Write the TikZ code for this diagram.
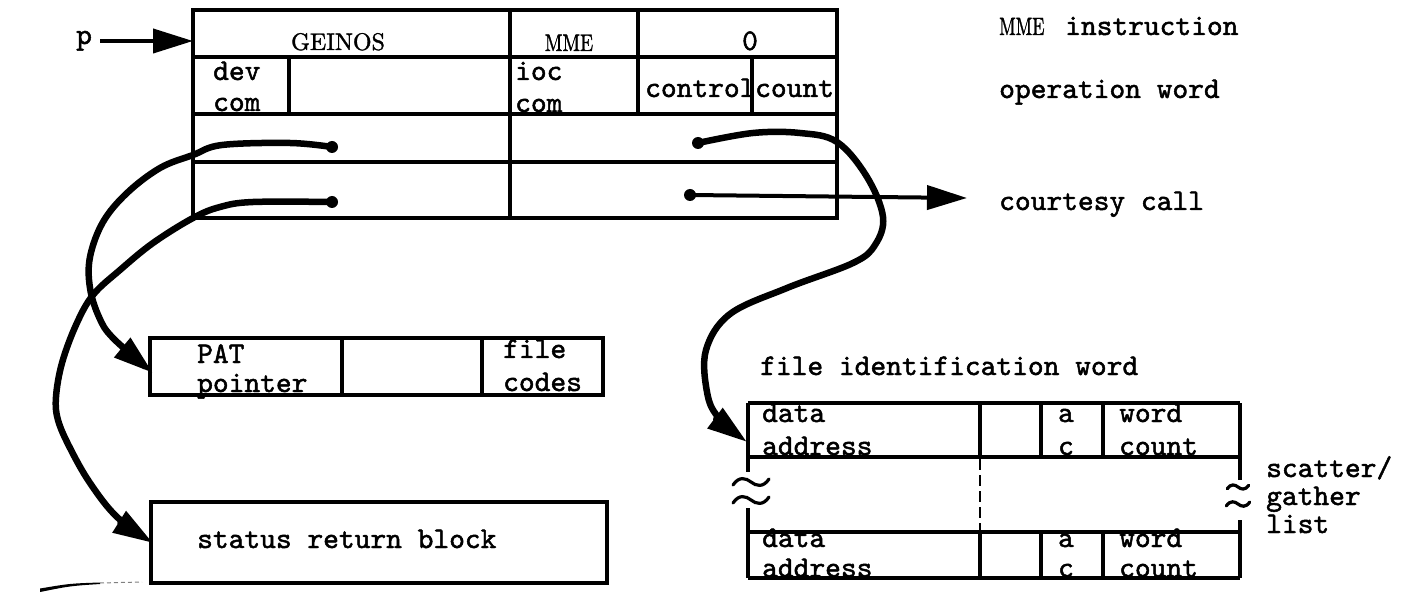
\documentclass[tikz,border=0pt]{standalone}
\usepackage{fontspec}
\newfontfamily\twfont{lmmono10-regular.otf}[FakeBold=1.6]
\newfontfamily\twrm{lmroman10-regular.otf}[FakeBold=1.4]
\usetikzlibrary{arrows.meta}
\tikzset{
  tbl/.style={line width=3.2pt},
  wire/.style={line width=6.5pt, line cap=round},
  head/.style={-{Triangle[length=40pt,width=24pt]}},
  tt/.style={inner sep=0pt, anchor=base west, font=\fontsize{30}{36}\twfont},
  ttc/.style={tt, anchor=base},
  rmc/.style={inner sep=0pt, anchor=base, font=\fontsize{24}{28}\twrm},
  boxn/.style={draw, tbl, inner sep=0pt, outer sep=0pt, anchor=north west},
  tilde/.pic={\draw[line width=3.2pt, line cap=round] (-18,3) .. controls (-12,-6) and (-5,-4) .. (0,0) .. controls (5,4) and (12,6) .. (18,-3);}
}
\begin{document}
\begin{tikzpicture}[x=1pt,y=-1pt]
\useasboundingbox (0,0) rectangle (1413,601);
% ---------- main table
\node[boxn, minimum width=644pt, minimum height=208pt] (mme) at (193,10) {};
\draw[tbl] (193,57) -- (837,57);
\draw[tbl] (193,114) -- (837,114);
\draw[tbl] (193,162) -- (837,162);
\draw[tbl] (510,10) -- (510,218);
\draw[tbl] (638,10) -- (638,114);
\draw[tbl] (752,55) -- (752,116);
\draw[tbl] (289,57) -- (289,114);
\node[rmc] (geinos) at (338,50) {GEINOS};
\node[rmc] (mmeop) at (569,51) {\scalebox{0.8}[1]{MME}};
\node[ttc] (zero) at (750,50) {0};
\node[tt] (dev) at (213,80) {dev};
\node[tt] (devcom) at (213,111) {com};
\node[tt] (ioc) at (515,80) {ioc};
\node[tt] (ioccom) at (515,112) {com};
\node[tt] (control) at (645,97) {control};
\node[tt] (count) at (755,97) {count};
% p arrow
\node[tt] (p) at (76,44) {p};
\coordinate (pstart) at (100,41);
\coordinate (pin) at (193,41);
\draw[line width=4pt, head] (pstart) -- (pin);
% right labels
\node[tt] (mmelabel) at (999,35) {\makebox[66pt][l]{\fontsize{25}{28}\twrm\scalebox{0.72}[1]{MME}}instruction};
\node[tt] (opword) at (999,98) {operation word};
\node[tt] (courtesy) at (999,210) {courtesy call};
% ---------- PAT box
\node[boxn, minimum width=453pt, minimum height=57pt] (pat) at (150,338) {};
\draw[tbl] (342,338) -- (342,395);
\draw[tbl] (482,338) -- (482,395);
\node[tt] (patt) at (197,363) {PAT};
\node[tt] (patp) at (197,392) {pointer};
\node[tt] (file) at (503,358) {file};
\node[tt] (codes) at (503,391) {codes};
% ---------- status box
\node[boxn, minimum width=456pt, minimum height=81pt] (status) at (151,502) {};
\node[tt] (statustxt) at (197,548) {status return block};
% ---------- file identification word
\node[tt] (fidw) at (760,375) {file identification word};
\draw[tbl] (748,403) -- (1240,403);
\draw[tbl] (748,457) -- (1240,457);
\draw[tbl] (748,532) -- (1240,532);
\draw[tbl] (748,578) -- (1240,578);
\draw[tbl] (748,403) -- (748,472);
\draw[tbl] (748,508) -- (748,578);
\draw[tbl] (1240,403) -- (1240,480);
\draw[tbl] (1240,520) -- (1240,578);
\draw[tbl] (980,403) -- (980,457);
\draw[line width=2.6pt, dash pattern=on 11pt off 5pt] (980,459) -- (980,530);
\draw[tbl] (980,532) -- (980,578);
\draw[tbl] (1041,403) -- (1041,457);
\draw[tbl] (1041,532) -- (1041,578);
\draw[tbl] (1103,403) -- (1103,457);
\draw[tbl] (1103,532) -- (1103,578);
\pic at (751,482) {tilde};
\pic at (751,500) {tilde};
\pic[scale=0.6] at (1238,487) {tilde};
\pic[scale=0.65] at (1238,504) {tilde};
\node[tt] (data1) at (762,422) {data};
\node[tt] (addr1) at (762,455) {address};
\node[ttc] (a1) at (1066,422) {a};
\node[ttc] (c1) at (1066,455) {c};
\node[tt] (word1) at (1119,422) {word};
\node[tt] (count1) at (1119,455) {count};
\node[tt] (data2) at (762,547) {data};
\node[tt] (addr2) at (762,577) {address};
\node[ttc] (a2) at (1066,547) {a};
\node[ttc] (c2) at (1066,577) {c};
\node[tt] (word2) at (1119,547) {word};
\node[tt] (count2) at (1119,577) {count};
\node[tt] (scatter) at (1266,477) {scatter/};
\node[tt] (gather) at (1266,505) {gather};
\node[tt] (list) at (1266,533) {list};
% ---------- connectors
\coordinate (dotA) at (332,147);
\coordinate (dotB) at (332,202);
\coordinate (dotC) at (698,143);
\coordinate (dotD) at (690,195);
\coordinate (patin) at (153,373);
\coordinate (statin) at (153,543);
\coordinate (datain) at (747,442);
\coordinate (ccin) at (967,198);
\draw[wire, head] plot[smooth, tension=0.6] coordinates {(dotA) (290,143) (222,145) (193,155) (160,168) (127,193) (103,222) (90,257) (90,288) (99,317) (113,338) (patin)};
\draw[wire, head] plot[smooth, tension=0.6] coordinates {(dotB) (253,202) (220,207) (193,218) (153,243) (120,270) (93,295) (76,325) (62,363) (56,397) (58,420) (70,448) (90,483) (117,517) (statin)};
\draw[wire, head] plot[smooth, tension=0.6] coordinates {(dotC) (753,133) (800,133) (837,142) (867,177) (883,217) (875,245) (853,263) (787,288) (730,314) (706,350) (707,392) (718,417) (datain)};
\draw[line width=4pt, head] (dotD) -- (ccin);
\foreach \d in {dotA,dotB,dotC,dotD} \fill (\d) circle (6pt);
% scan smudge bottom left
\fill (40,592) .. controls (70,586) .. (100,584) -- (100,582.5) .. controls (70,583.5) .. (40,588.5) -- cycle;
\draw[gray, line width=1pt, dash pattern=on 4pt off 3pt] (100,583) -- (142,582);
\end{tikzpicture}
\end{document}
